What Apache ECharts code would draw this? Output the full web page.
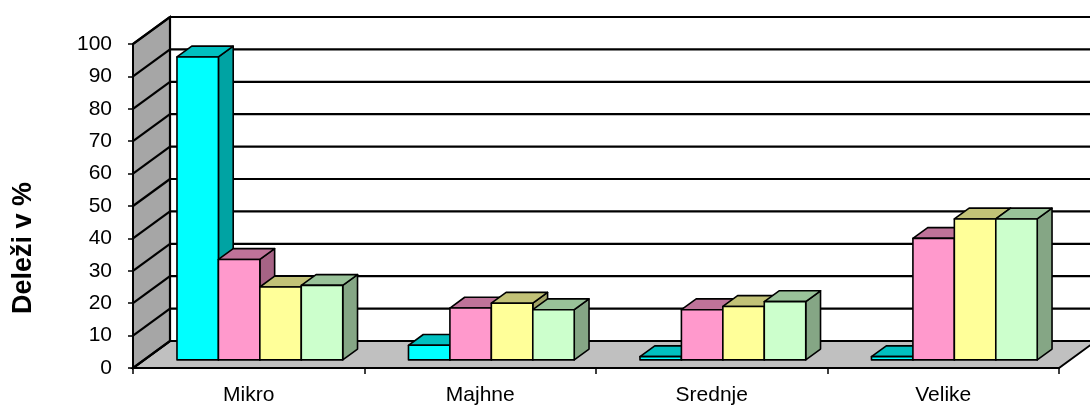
<!DOCTYPE html>
<html>
<head>
<meta charset="utf-8">
<script src="https://cdn.jsdelivr.net/npm/echarts@6/dist/echarts.min.js"></script>
<style>
  html, body { margin: 0; padding: 0; background: #fff; }
  #chart { width: 1090px; height: 405px; }
</style>
</head>
<body>
<div id="chart"></div>
<script>
// podatki
const categories = ['Mikro', 'Majhne', 'Srednje', 'Velike'];
const cyanValues = [93.5, 4.5, 1, 1];
const pinkValues = [31, 16, 15.5, 37.5];
const yellowValues = [22.5, 17.5, 16.5, 43.5];
const greenValues = [23, 15.5, 18, 43.5];
const yTicks = [0, 10, 20, 30, 40, 50, 60, 70, 80, 90, 100];

// 3D izgled (sprednja, zgornja, stranska ploskev)
const palette = [
  ['#00FFFF', '#00C0C0', '#00A3A3'],
  ['#FF99CC', '#BF7399', '#A66385'],
  ['#FFFF99', '#C2C277', '#A3A366'],
  ['#CCFFCC', '#99C299', '#85A685'],
];
const DX = 37;   // globina stene
const DY = -27;
const NEAR = 0.3; // sprednja ploskev stolpca
const FAR = 0.7;
const BAR_FRAC = 0.179;
const FONT = "'Liberation Sans', Arial, sans-serif";

const chart = echarts.init(document.getElementById('chart'));

function renderWalls(params, api) {
  const cs = params.coordSys;
  const L = cs.x;
  const R = cs.x + cs.width;
  const y0 = api.coord([0, 0])[1];
  const y100 = api.coord([0, 100])[1];
  const line = { stroke: '#000', lineWidth: 2.2 };
  const children = [
    {
      type: 'polygon',
      shape: { points: [[L, y0], [R, y0], [R + DX, y0 + DY], [L + DX, y0 + DY]] },
      style: { fill: '#C0C0C0', stroke: '#000', lineWidth: 2 },
    },
    {
      type: 'polygon',
      shape: { points: [[L, y0], [L, y100], [L + DX, y100 + DY], [L + DX, y0 + DY]] },
      style: { fill: '#A6A6A6', stroke: '#000', lineWidth: 2 },
    },
    {
      type: 'line',
      shape: { x1: L + DX, y1: y0 + DY, x2: L + DX, y2: y100 + DY },
      style: line,
    },
  ];
  yTicks.forEach((t) => {
    const y = api.coord([0, t])[1];
    children.push({
      type: 'line',
      shape: { x1: L, y1: y, x2: L + DX, y2: y + DY },
      style: line,
    });
    children.push({
      type: 'line',
      shape: { x1: L + DX, y1: y + DY, x2: R + DX + 10, y2: y + DY },
      style: line,
    });
  });
  return { type: 'group', children };
}

function barSeries(values, idx) {
  const [front, top, side] = palette[idx];
  return {
    type: 'custom',
    clip: false,
    z: 3 + idx,
    data: values.map((v, i) => [i, v]),
    renderItem(params, api) {
      const i = api.value(0);
      const v = api.value(1);
      const base = api.coord([i, 0]);
      const head = api.coord([i, v]);
      const bw = api.size([1, 0])[0] * BAR_FRAC;
      const x0 = base[0] - 2 * bw + idx * bw + DX * NEAR;
      const yb = base[1] + DY * NEAR;
      const yt = head[1] + DY * NEAR;
      const ddx = DX * (FAR - NEAR);
      const ddy = DY * (FAR - NEAR);
      const st = { stroke: '#000', lineWidth: 1.6, lineJoin: 'round' };
      return {
        type: 'group',
        children: [
          {
            type: 'polygon',
            shape: { points: [[x0 + bw, yt], [x0 + bw + ddx, yt + ddy], [x0 + bw + ddx, yb + ddy], [x0 + bw, yb]] },
            style: Object.assign({ fill: side }, st),
          },
          {
            type: 'polygon',
            shape: { points: [[x0, yt], [x0 + bw, yt], [x0 + bw + ddx, yt + ddy], [x0 + ddx, yt + ddy]] },
            style: Object.assign({ fill: top }, st),
          },
          {
            type: 'rect',
            shape: { x: x0, y: yt, width: bw, height: yb - yt },
            style: Object.assign({ fill: front }, st),
          },
        ],
      };
    },
  };
}

const option = {
  animation: false,
  grid: { left: 133, right: 31, top: 44, bottom: 37, outerBoundsMode: 'none' },
  xAxis: {
    type: 'category',
    data: categories,
    axisLine: { lineStyle: { color: '#000', width: 2 } },
    axisTick: { show: true, length: 6, lineStyle: { color: '#000', width: 1.5 } },
    axisLabel: { interval: 0, color: '#000', fontSize: 21, fontFamily: FONT, margin: 17 },
    z: 10,
  },
  yAxis: {
    type: 'value',
    min: 0,
    max: 100,
    interval: 10,
    name: 'Deleži v %',
    nameLocation: 'middle',
    nameGap: 96,
    nameTextStyle: {
      fontSize: 27,
      fontWeight: 'bold',
      color: '#000',
      fontFamily: FONT,
      padding: [0, 84, 0, 0],
    },
    axisLine: { show: true, lineStyle: { color: '#000', width: 2 } },
    axisTick: { show: true, length: 5, lineStyle: { color: '#000', width: 1.5 } },
    axisLabel: { color: '#000', fontSize: 21, fontFamily: FONT, margin: 21 },
    splitLine: { show: false },
    z: 10,
  },
  series: [
    {
      type: 'custom',
      clip: false,
      z: 1,
      silent: true,
      data: [[0, 0]],
      renderItem: renderWalls,
    },
    barSeries(cyanValues, 0),
    barSeries(pinkValues, 1),
    barSeries(yellowValues, 2),
    barSeries(greenValues, 3),
  ],
};

chart.setOption(option);
</script>
</body>
</html>
